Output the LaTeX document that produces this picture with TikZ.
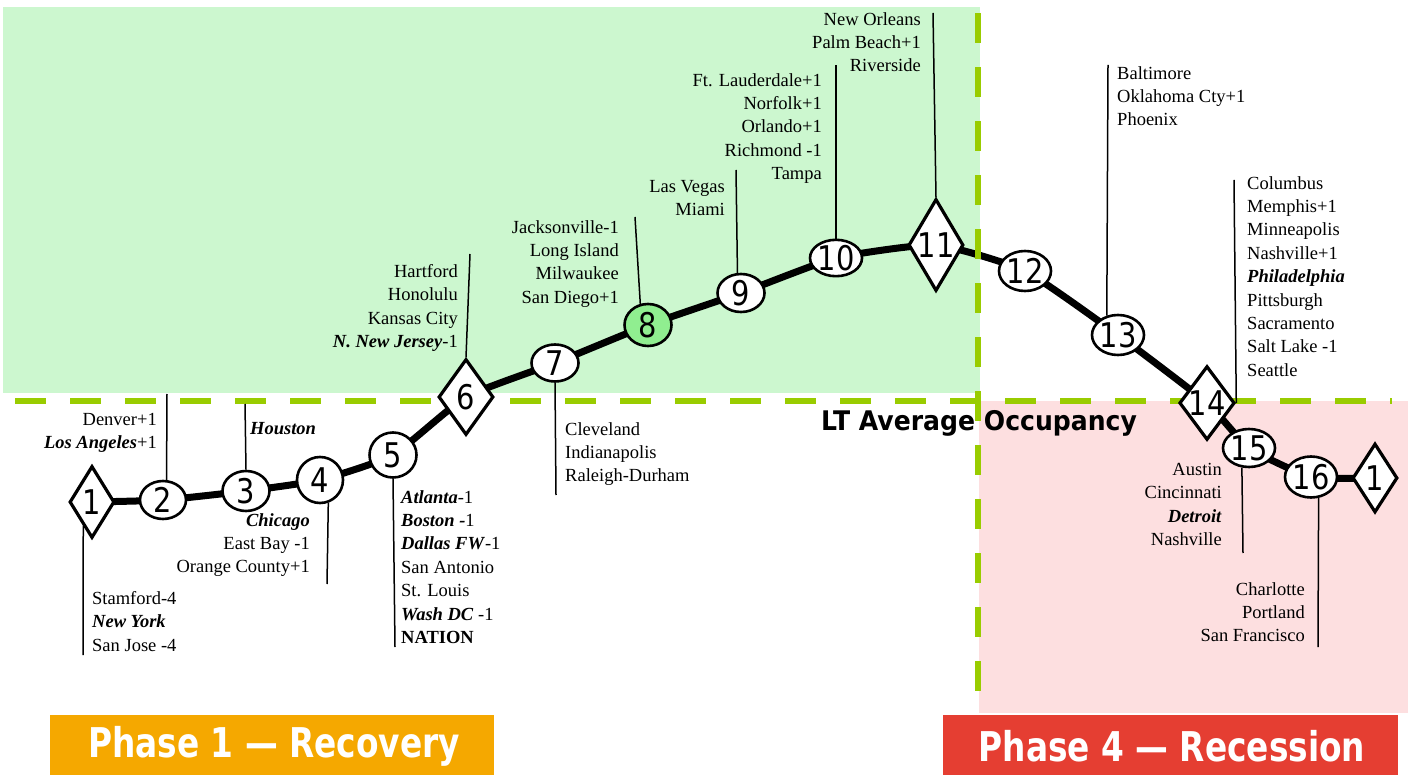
\documentclass[tikz,border=0pt]{standalone}
\usepackage{fontspec}
\setmainfont{Liberation Serif}
\newfontfamily\numfont[FakeStretch=0.85]{DejaVu Sans}
\newfontfamily\headfont[FakeStretch=0.93]{DejaVu Sans}
\newfontfamily\phasefont[FakeStretch=0.8]{DejaVu Sans}
\usetikzlibrary{shapes.geometric}

\definecolor{zonegreen}{RGB}{204,247,207}
\definecolor{zonepink}{RGB}{253,223,224}
\definecolor{avgline}{RGB}{153,204,0}
\definecolor{peakfill}{RGB}{144,238,144}
\definecolor{phaseorange}{RGB}{245,168,0}
\definecolor{phasered}{RGB}{229,62,50}

\newcommand\hub[1]{\textbf{\textit{#1}}}
\newcommand\lstrut{\rule{0pt}{14pt}}

\tikzset{
  route/.style={line width=7pt, line join=round},
  avg/.style={line width=6.5pt, draw=avgline},
  stage/.style={ellipse, draw=black, line width=2.6pt, fill=white, inner sep=0pt,
    minimum width=47pt, minimum height=40pt, font=\numfont\fontsize{34}{34}\selectfont},
  turn/.style={diamond, draw=black, line width=3.2pt, fill=white, inner sep=0pt,
    shape aspect=0.6, font=\numfont\fontsize{34}{34}\selectfont},
  leader/.style={line width=1.5pt},
  citylist/.style={inner sep=0pt, font=\fontsize{18.5}{23.4}\selectfont,
    execute at begin node=\lstrut},
  cityL/.style={citylist, align=left, anchor=north west},
  cityR/.style={citylist, align=right, anchor=north east},
  phasebox/.style={inner sep=0pt, text=white,
    font=\phasefont\bfseries\fontsize{41}{41}\selectfont}
}

\begin{document}
\begin{tikzpicture}[x=1pt,y=-1pt]
\useasboundingbox (0,0) rectangle (1408,775);

% zones above / below the long-term average
\fill[zonegreen] (3,7) rectangle (980,393);
\fill[zonepink] (979,401) rectangle (1408,713);

% cycle positions
\coordinate (p1) at (92,502);
\coordinate (p2) at (163,500);
\coordinate (p3) at (246,491);
\coordinate (p4) at (320,480);
\coordinate (p5) at (393,455);
\coordinate (p6) at (466,397);
\coordinate (p7) at (555,363);
\coordinate (p8) at (648,325);
\coordinate (p9) at (741,293);
\coordinate (p10) at (836,258);
\coordinate (p11) at (936,245);
\coordinate (p12) at (1025,271);
\coordinate (p13) at (1118,335);
\coordinate (p14) at (1207,403);
\coordinate (p15) at (1249,448);
\coordinate (p16) at (1311,477);
\coordinate (p17) at (1375,478);

% the cycle curve
\draw[route] plot[smooth, tension=0.3] coordinates
  {(p1) (p2) (p3) (p4) (p5) (p6) (p7) (p8) (p9) (p10) (p11) (p12) (p13) (p14) (p15) (p16) (p17)};

% long-term average occupancy lines
\coordinate (avgW) at (15,401);
\coordinate (avgE) at (1392,401);
\coordinate (divN) at (978,13);
\coordinate (divS) at (978,700);
\draw[avg, dash pattern=on 31pt off 24pt] (avgW) -- (avgE);
\draw[avg, dash pattern=on 30pt off 24pt] (divN) -- (divS);

% stages of the cycle
\node[turn, minimum width=45pt, minimum height=72pt] (n1) at (p1) {1};
\node[stage, minimum width=46pt, minimum height=38pt] (n2) at (p2) {2};
\node[stage] (n3) at (p3) {3};
\node[stage, minimum width=46pt, minimum height=46pt] (n4) at (p4) {4};
\node[stage, minimum width=47pt, minimum height=45pt] (n5) at (p5) {5};
\node[turn, minimum width=55pt, minimum height=76pt] (n6) at (p6) {6};
\node[stage, minimum height=37pt] (n7) at (p7) {7};
\node[stage, fill=peakfill, minimum height=42pt] (n8) at (p8) {8};
\node[stage, minimum height=38pt] (n9) at (p9) {9};
\node[stage, minimum height=35pt] (n10) at (p10) {10};
\node[turn, minimum width=55pt, minimum height=92pt] (n11) at (p11) {11};
\node[stage, minimum height=40pt] (n12) at (p12) {12};
\node[stage, minimum height=40pt] (n13) at (p13) {13};
\node[turn, shape aspect=0.75, minimum width=55pt, minimum height=72pt] (n14) at (p14) {14};
\node[stage, minimum height=38pt] (n15) at (p15) {15};
\node[stage, minimum width=48pt, minimum height=41pt] (n16) at (p16) {16};
\node[turn, minimum width=45pt, minimum height=69pt] (n17) at (p17) {1};

% leader ends
\coordinate (e1) at (83,655);
\coordinate (e2) at (167,394);
\coordinate (e3) at (245,404);
\coordinate (e4) at (327,584);
\coordinate (e5) at (395,647);
\coordinate (e6) at (470,254);
\coordinate (e7) at (556,495);
\coordinate (e8) at (635,217);
\coordinate (e9) at (736,170);
\coordinate (e10) at (836,65);
\coordinate (e11) at (933,13);
\coordinate (e13) at (1108,65);
\coordinate (e14) at (1234,180);
\coordinate (e15) at (1243,553);
\coordinate (e16) at (1318,647);

\draw[leader] (n1.250) -- (e1);
\draw[leader] (n2.80) -- (e2);
\draw[leader] (n3.north) -- (e3);
\draw[leader] (n4.290) -- (e4);
\draw[leader] (n5.south) -- (e5);
\draw[leader] (n6.north) -- (e6);
\draw[leader] (n7.south) -- (e7);
\draw[leader] (n8.110) -- (e8);
\draw[leader] (n9.100) -- (e9);
\draw[leader] (n10.north) -- (e10);
\draw[leader] (n11.north) -- (e11);
\draw[leader] (n13.120) -- (e13);
\draw[leader] (n14.east) -- (e14);
\draw[leader] (n15.250) -- (e15);
\draw[leader] (n16.290) -- (e16);

% markets at each stage
\node[cityL] (m1) at (92,591) {Stamford-4\\\hub{New York}\\San Jose -4};
\node[cityR] (m2) at (157,413) {Denver+1\\\hub{Los Angeles}+1};
\node[cityL] (m3) at (250,420) {\hub{Houston}};
\node[cityR] (m4) at (310,513) {\hub{Chicago}\\East Bay -1\\Orange County+1};
\node[cityL] (m5) at (401,490) {\hub{Atlanta}-1\\\hub{Boston -}1\\\hub{Dallas FW}-1\\San Antonio\\St. Louis\\\hub{Wash DC} -1\\\textbf{NATION}};
\node[cityR] (m6) at (458,264) {Hartford\\Honolulu\\Kansas City\\\hub{N. New Jersey}-1};
\node[cityL] (m7) at (565,422) {Cleveland\\Indianapolis\\Raleigh-Durham};
\node[cityR] (m8) at (619,220) {Jacksonville-1\\Long Island\\Milwaukee\\San Diego+1};
\node[cityR] (m9) at (725,180) {Las Vegas\\Miami};
\node[cityR] (m10) at (822,73) {Ft. Lauderdale+1\\Norfolk+1\\Orlando+1\\Richmond -1\\Tampa};
\node[cityR] (m11) at (921,12) {New Orleans\\Palm Beach+1\\Riverside};
\node[cityL] (m13) at (1117,66) {Baltimore\\Oklahoma Cty+1\\Phoenix};
\node[cityL] (m14) at (1247,176) {Columbus\\Memphis+1\\Minneapolis\\Nashville+1\\\hub{Philadelphia}\\Pittsburgh\\Sacramento\\Salt Lake -1\\Seattle};
\node[cityR] (m15) at (1222,463) {Austin\\Cincinnati\\\hub{Detroit}\\Nashville};
\node[cityR] (m16) at (1305,582) {Charlotte\\Portland\\San Francisco};

% average label
\node[inner sep=0pt, anchor=base west, font=\headfont\bfseries\fontsize{27}{27}\selectfont]
  (avglabel) at (821,430) {LT Average Occupancy};

% phase banners
\fill[phaseorange] (50,715) rectangle (494,775);
\fill[phasered] (943,715) rectangle (1398,775);
\node[phasebox] (ph1) at (274,746) {Phase 1 — Recovery};
\node[phasebox] (ph4) at (1172,746) {Phase 4 — Recession};
\end{tikzpicture}
\end{document}
